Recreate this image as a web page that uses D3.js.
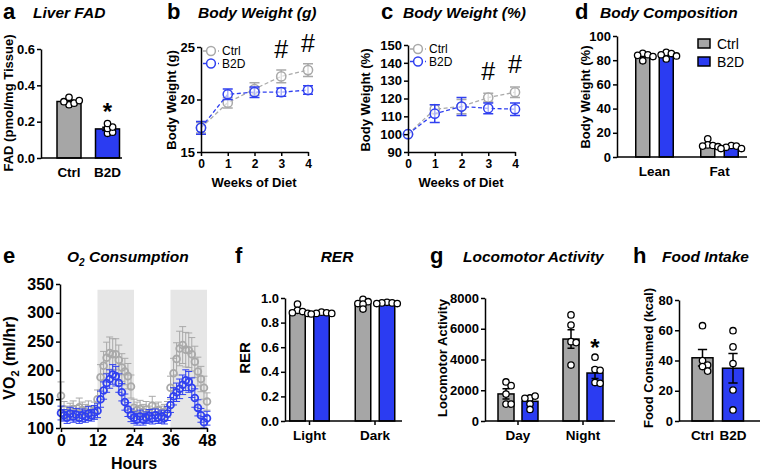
<!DOCTYPE html>
<html>
<head>
<meta charset="utf-8">
<script src="https://cdn.jsdelivr.net/npm/d3@7"></script>
<style>
body { margin: 0; background: #fff; }
svg { font-family: "Liberation Sans", Arial, Helvetica, sans-serif; }
</style>
</head>
<body>
<svg id="fig" width="761" height="474"></svg>
<script>
// ---- data ----
const groupNames = ['Ctrl', 'B2D'];

// a: liver FAD
const fadMean = [0.311, 0.160];
const fadSem = [0.007, 0.009];
const fadPts = [[0.293, 0.302, 0.31, 0.316, 0.334], [0.136, 0.142, 0.163, 0.17, 0.19]];

// b, c: body weight
const weeks = [0, 1, 2, 3, 4];
const bwCtrl = [17.3, 19.7, 21.0, 22.2, 22.8];
const bwCtrlSem = [0.5, 0.5, 0.6, 0.6, 0.6];
const bwB2D = [17.3, 20.5, 20.7, 20.7, 20.9];
const bwB2DSem = [0.6, 0.5, 0.5, 0.4, 0.4];
const pctCtrl = [100, 114, 115.5, 120.5, 123.5];
const pctCtrlSem = [0, 2.5, 4, 2.5, 3];
const pctB2D = [100, 111.5, 115.5, 114.5, 114];
const pctB2DSem = [0, 5, 5, 3, 3.5];

// d: body composition
const compGroups = ['Lean', 'Fat'];
const compCtrl = [83.3, 10.4];
const compCtrlSem = [1.1, 1.2];
const compB2D = [84.2, 8.1];
const compB2DSem = [0.9, 0.5];
const compCtrlPts = [[85.7, 84.5, 84, 83, 79.5], [15, 10, 9.5, 9, 8.5]];
const compB2DPts = [[86.5, 85.5, 84.5, 83.5, 81], [9.5, 9, 8, 7, 7]];

// e: O2 consumption
const hours = [0,1,2,3,4,5,6,7,8,9,10,11,12,13,14,15,16,17,18,19,20,21,22,23,24,
  25,26,27,28,29,30,31,32,33,34,35,36,37,38,39,40,41,42,43,44,45,46,47,48];
const vo2Ctrl = [156,132,126,130,133,127,136,131,128,133,127,131,
  150,188,208,222,230,228,228,218,205,198,190,172,
  135,131,133,128,132,126,139,129,131,126,128,132,
  170,195,220,238,244,236,235,228,215,198,185,170,146];
const vo2CtrlSem = [24,14,12,13,14,12,16,14,13,14,12,14,
  16,22,25,27,28,27,27,26,24,23,22,20,
  15,14,15,13,14,12,16,13,14,12,13,14,
  20,26,28,30,32,30,30,29,27,25,22,20,15];
const vo2B2D = [126,122,118,125,120,123,118,122,120,125,122,127,
  130,150,165,178,185,193,190,178,162,145,132,122,
  118,115,120,115,118,121,117,122,118,120,117,125,
  140,155,162,168,175,183,180,170,152,135,122,110,117];
const vo2B2DSem = [12,10,10,11,10,11,10,11,10,12,10,12,
  12,14,15,16,16,17,17,16,15,14,12,11,
  10,10,11,10,10,11,10,11,10,11,10,12,
  13,15,16,17,17,18,18,17,16,14,12,10,12];
const darkPhases = [[12, 24], [36, 48]];

// f: RER
const rerGroups = ['Light', 'Dark'];
const rerCtrl = [0.897, 0.952];
const rerCtrlSem = [0.014, 0.014];
const rerB2D = [0.877, 0.96];
const rerB2DSem = [0.003, 0.002];
const rerCtrlPts = [[0.95, 0.9, 0.89, 0.88, 0.875], [0.99, 0.97, 0.955, 0.95, 0.91]];
const rerB2DPts = [[0.885, 0.88, 0.875, 0.875, 0.87], [0.965, 0.96, 0.96, 0.955, 0.955]];

// g: locomotor activity
const locoGroups = ['Day', 'Night'];
const locoCtrl = [1760, 5330];
const locoCtrlSem = [330, 600];
const locoB2D = [1280, 3120];
const locoB2DSem = [160, 350];
const locoCtrlPts = [[2540, 2300, 1750, 1100, 1100], [6900, 6240, 5160, 5100, 3640]];
const locoB2DPts = [[1500, 1620, 1480, 1100, 750], [4150, 3350, 3300, 2500, 2450]];

// h: food intake
const foodMean = [41.8, 34.9];
const foodSem = [5.5, 9.7];
const foodPts = [[63, 40, 37, 36, 33], [59.7, 49, 38, 20.5, 7.3]];

// ---- drawing ----
const GRAY = '#a6a6a6', BLUE = '#2b3cf2', LGRAY = '#a9a9a9', LBLUE = '#3040f0';
const svg = d3.select('#fig');

function leftAxis(y, x0, ticks, fmt, size) {
    const g = svg.append('g')
        .attr('transform', `translate(${x0},0)`)
        .call(d3.axisLeft(y).tickValues(ticks).tickFormat(fmt).tickSize(4).tickSizeOuter(0).tickPadding(2));
    g.selectAll('text').style('font-size', size + 'px').style('font-weight', 'bold').style('fill', '#000');
    g.selectAll('path,line').style('stroke', '#000').style('stroke-width', 1.5);
    return g;
}

function bottomAxis(x, y0, ticks, size) {
    const g = svg.append('g')
        .attr('transform', `translate(0,${y0})`)
        .call(d3.axisBottom(x).tickValues(ticks).tickFormat(d3.format('d')).tickSize(4).tickSizeOuter(0).tickPadding(3));
    g.selectAll('text').style('font-size', size + 'px').style('font-weight', 'bold').style('fill', '#000');
    g.selectAll('path,line').style('stroke', '#000').style('stroke-width', 1.5);
    return g;
}

function label(x, y, txt, o) {
    o = o || {};
    return svg.append('text')
        .attr('x', x).attr('y', y)
        .attr('text-anchor', o.anchor || 'start')
        .style('font-size', (o.size || 13) + 'px')
        .style('font-weight', o.weight || 'bold')
        .style('font-style', o.italic ? 'italic' : 'normal')
        .text(txt);
}

function yLabel(x, y, txt, size) {
    return svg.append('text')
        .attr('transform', `translate(${x},${y}) rotate(-90)`)
        .attr('text-anchor', 'middle')
        .style('font-size', (size || 13) + 'px')
        .style('font-weight', 'bold')
        .text(txt);
}

// GraphPad-like scatter spread: move a point sideways only when it overlaps
function swarm(vals, cx, y, r) {
    const placed = [];
    return vals.map((v) => {
        const py = y(v);
        const step = r * 1.6;
        const offs = [0];
        for (let i = 1; i < 6; i++) offs.push(i * step, -i * step);
        let px = cx;
        for (const off of offs) {
            if (placed.every(p => Math.hypot(p[0] - (cx + off), p[1] - py) >= r * 1.5)) { px = cx + off; break; }
        }
        placed.push([px, py]);
        return [px, py];
    });
}

function drawBars(y, bars, bw) {
    bars.forEach((b) => {
        svg.append('rect')
            .attr('x', b.cx - bw / 2).attr('y', y(b.mean))
            .attr('width', bw).attr('height', y(0) - y(b.mean))
            .attr('fill', b.color).attr('stroke', '#000').attr('stroke-width', 1.5);
        const cw = bw * 0.22;
        svg.append('path')
            .attr('d', `M${b.cx},${y(b.mean - b.sem)}V${y(b.mean + b.sem)}M${b.cx - cw},${y(b.mean + b.sem)}H${b.cx + cw}M${b.cx - cw},${y(b.mean - b.sem)}H${b.cx + cw}`)
            .attr('stroke', '#000').attr('stroke-width', 1.5).attr('fill', 'none');
        svg.selectAll(null)
            .data(swarm(b.pts, b.cx, y, 3.2))
            .enter().append('circle')
            .attr('cx', d => d[0]).attr('cy', d => d[1]).attr('r', 3.2)
            .attr('fill', '#fff').attr('stroke', '#000').attr('stroke-width', 1.3);
    });
}

function xLine(x0, x1, y0, ticks) {
    svg.append('line').attr('x1', x0).attr('x2', x1).attr('y1', y0).attr('y2', y0)
        .attr('stroke', '#000').attr('stroke-width', 1.5);
    (ticks || []).forEach((t) => {
        svg.append('line').attr('x1', t).attr('x2', t).attr('y1', y0).attr('y2', y0 + 4)
            .attr('stroke', '#000').attr('stroke-width', 1.5);
    });
}

function groupedBars(o) {
    const y = d3.scaleLinear().domain([0, o.yMax]).range([o.yBot, o.yTop]);
    const xg = d3.scalePoint().domain(o.groups).range(o.centers);
    const xs = d3.scalePoint().domain(groupNames).range([-o.off, o.off]);
    const bars = [];
    o.groups.forEach((g, i) => {
        bars.push({cx: xg(g) + xs('Ctrl'), mean: o.ctrl[i], sem: o.ctrlSem[i], pts: o.ctrlPts[i], color: GRAY});
        bars.push({cx: xg(g) + xs('B2D'), mean: o.b2d[i], sem: o.b2dSem[i], pts: o.b2dPts[i], color: BLUE});
    });
    drawBars(y, bars, o.bw);
    xLine(o.x0, o.x1, o.yBot, o.xTicks ? o.groups.map(xg) : []);
    leftAxis(y, o.x0, o.ticks, o.fmt, 13);
    o.groups.forEach(g => label(xg(g), o.yBot + 19, g, {anchor: 'middle', size: 13.5}));
    return {x: xg, y: y};
}

function pairBars(o) {
    const y = d3.scaleLinear().domain([0, o.yMax]).range([o.yBot, o.yTop]);
    const x = d3.scalePoint().domain(groupNames).range(o.centers);
    drawBars(y, groupNames.map((g, i) => ({cx: x(g), mean: o.mean[i], sem: o.sem[i], pts: o.pts[i], color: [GRAY, BLUE][i]})), o.bw);
    xLine(o.x0, o.x1, o.yBot, []);
    leftAxis(y, o.x0, o.ticks, o.fmt, 13);
    groupNames.forEach(g => label(x(g), o.yBot + 19, g, {anchor: 'middle', size: 13.5}));
    return {x: x, y: y};
}

function linePanel(o) {
    const x = d3.scaleLinear().domain([0, 4]).range([o.x0, o.x0 + 107]);
    const y = d3.scaleLinear().domain(o.yDom).range([o.yBot, o.yTop]);
    const series = [
        {vals: o.ctrl, sem: o.ctrlSem, color: LGRAY, name: 'Ctrl'},
        {vals: o.b2d, sem: o.b2dSem, color: LBLUE, name: 'B2D'}
    ];
    series.forEach((s) => {
        svg.append('path')
            .attr('d', d3.line().x((d, i) => x(weeks[i])).y(d => y(d))(s.vals))
            .attr('fill', 'none').attr('stroke', s.color).attr('stroke-width', 1.3).attr('stroke-dasharray', '4,2.5');
        s.vals.forEach((v, i) => {
            const cx = x(weeks[i]);
            if (s.sem[i] > 0) {
                svg.append('path')
                    .attr('d', `M${cx},${y(v - s.sem[i])}V${y(v + s.sem[i])}M${cx - 5},${y(v + s.sem[i])}H${cx + 5}M${cx - 5},${y(v - s.sem[i])}H${cx + 5}`)
                    .attr('stroke', s.color).attr('stroke-width', 1.5).attr('fill', 'none');
            }
            svg.append('circle').attr('cx', cx).attr('cy', y(v)).attr('r', 4.6)
                .attr('fill', '#fff').attr('fill-opacity', 0.6).attr('stroke', s.color).attr('stroke-width', 1.5);
        });
    });
    leftAxis(y, o.x0, o.ticks, d3.format('d'), 13);
    bottomAxis(x, o.yBot, weeks, 12);
    label(o.x0 + 53, o.yBot + 35, 'Weeks of Diet', {anchor: 'middle', size: 13});
    // legend
    series.forEach((s, i) => {
        const ly = o.yTop + 4 + i * 12.5;
        const lx = o.x0 + 10;
        svg.append('line').attr('x1', lx - 8).attr('x2', lx + 8).attr('y1', ly).attr('y2', ly)
            .attr('stroke', s.color).attr('stroke-width', 1.3).attr('stroke-dasharray', '3,2');
        svg.append('circle').attr('cx', lx).attr('cy', ly).attr('r', 4.4)
            .attr('fill', '#fff').attr('stroke', s.color).attr('stroke-width', 1.5);
        label(lx + 11, ly + 4, s.name, {size: 12, weight: 'normal'});
    });
    return {x: x, y: y};
}

// panel letters and titles
[['a', 3, 19], ['b', 167, 19], ['c', 381, 19], ['d', 575, 19],
 ['e', 3, 263], ['f', 235, 263], ['g', 430, 263], ['h', 633, 263]]
    .forEach(p => label(p[1], p[2], p[0], {size: 22}));
label(33, 18, 'Liver FAD', {size: 15.5, italic: true});
label(198, 18, 'Body Weight (g)', {size: 15.5, italic: true});
label(403, 18, 'Body Weight (%)', {size: 15.5, italic: true});
label(600, 18, 'Body Composition', {size: 15.5, italic: true});
label(337, 262, 'RER', {size: 15.5, italic: true, anchor: 'middle'});
label(463, 262, 'Locomotor Activity', {size: 15.5, italic: true});
label(662, 262, 'Food Intake', {size: 15.5, italic: true});
const o2t = label(67, 262, 'O', {size: 15.5, italic: true});
o2t.append('tspan').attr('dy', 4).style('font-size', '10px').text('2');
o2t.append('tspan').attr('dy', -4).text(' Consumption');

// a
const pa = pairBars({x0: 41, x1: 122, yTop: 49, yBot: 158, yMax: 0.6, ticks: [0, 0.2, 0.4, 0.6],
    fmt: d3.format('.1f'), centers: [69, 107.5], bw: 24, mean: fadMean, sem: fadSem, pts: fadPts});
label(pa.x('B2D'), pa.y(0.235) + 5, '*', {anchor: 'middle', size: 24});
yLabel(13, 103, 'FAD (pmol/mg Tissue)');

// b
const pb = linePanel({x0: 201, yTop: 47, yBot: 152, yDom: [15, 25], ticks: [15, 20, 25],
    ctrl: bwCtrl, ctrlSem: bwCtrlSem, b2d: bwB2D, b2dSem: bwB2DSem});
label(pb.x(3), pb.y(24.0), '#', {anchor: 'middle', size: 25, weight: 'normal'});
label(pb.x(4), pb.y(24.5), '#', {anchor: 'middle', size: 25, weight: 'normal'});
yLabel(176, 100, 'Body Weight (g)');

// c
const pc = linePanel({x0: 408, yTop: 45, yBot: 152, yDom: [90, 150], ticks: [90, 100, 110, 120, 130, 140, 150],
    ctrl: pctCtrl, ctrlSem: pctCtrlSem, b2d: pctB2D, b2dSem: pctB2DSem});
label(pc.x(3), pc.y(130.4), '#', {anchor: 'middle', size: 25, weight: 'normal'});
label(pc.x(4), pc.y(134.3), '#', {anchor: 'middle', size: 25, weight: 'normal'});
yLabel(370, 100, 'Body Weight (%)');

// d
groupedBars({x0: 617, x1: 747, yTop: 36, yBot: 157, yMax: 100, ticks: [0, 20, 40, 60, 80, 100], fmt: d3.format('d'),
    groups: compGroups, centers: [654.5, 719.5], off: 11.75, bw: 14,
    ctrl: compCtrl, ctrlSem: compCtrlSem, ctrlPts: compCtrlPts, b2d: compB2D, b2dSem: compB2DSem, b2dPts: compB2DPts});
yLabel(590, 97, 'Body Weight (%)');
groupNames.forEach((g, i) => {
    svg.append('rect').attr('x', 698).attr('y', 39 + i * 18).attr('width', 12).attr('height', 9)
        .attr('fill', [GRAY, BLUE][i]).attr('stroke', '#000').attr('stroke-width', 1.5);
    label(717, 48.5 + i * 18, g, {size: 14, weight: 'normal'});
});

// e
const xe = d3.scaleLinear().domain([0, 48]).range([61, 207]);
const ye = d3.scaleLinear().domain([100, 350]).range([428, 284]);
darkPhases.forEach((p) => {
    svg.append('rect').attr('x', xe(p[0])).attr('y', ye(340))
        .attr('width', xe(p[1]) - xe(p[0])).attr('height', ye(100) - ye(340)).attr('fill', '#e6e6e6');
});
[[vo2Ctrl, vo2CtrlSem, LGRAY], [vo2B2D, vo2B2DSem, LBLUE]].forEach((s) => {
    const vals = s[0], sem = s[1], col = s[2];
    vals.forEach((v, i) => {
        const cx = xe(hours[i]);
        const lo = Math.max(100, v - sem[i]);
        svg.append('path')
            .attr('d', `M${cx},${ye(lo)}V${ye(v + sem[i])}M${cx - 3.5},${ye(v + sem[i])}H${cx + 3.5}M${cx - 3.5},${ye(lo)}H${cx + 3.5}`)
            .attr('stroke', col).attr('stroke-width', 1).attr('fill', 'none');
    });
    svg.selectAll(null).data(vals).enter().append('circle')
        .attr('cx', (d, i) => xe(hours[i])).attr('cy', d => ye(d)).attr('r', 3.4)
        .attr('fill', 'none').attr('stroke', col).attr('stroke-width', 1.8);
});
leftAxis(ye, 60, [100, 150, 200, 250, 300, 350], d3.format('d'), 16);
bottomAxis(xe, 428, [0, 12, 24, 36, 48], 16);
label(134, 469, 'Hours', {anchor: 'middle', size: 16});
const vo2l = svg.append('text')
    .attr('transform', 'translate(15,358) rotate(-90)')
    .attr('text-anchor', 'middle').style('font-size', '16px').style('font-weight', 'bold')
    .text('VO');
vo2l.append('tspan').attr('dy', 4).style('font-size', '11px').text('2');
vo2l.append('tspan').attr('dy', -4).text(' (ml/hr)');

// f
groupedBars({x0: 285, x1: 402, yTop: 298, yBot: 421, yMax: 1.0, ticks: [0, 0.2, 0.4, 0.6, 0.8, 1.0], fmt: d3.format('.1f'),
    groups: rerGroups, centers: [309.5, 375], off: 12, bw: 15.5, xTicks: true,
    ctrl: rerCtrl, ctrlSem: rerCtrlSem, ctrlPts: rerCtrlPts, b2d: rerB2D, b2dSem: rerB2DSem, b2dPts: rerB2DPts});
yLabel(250, 358, 'RER', 15);

// g
const pg = groupedBars({x0: 485, x1: 615, yTop: 298, yBot: 421, yMax: 8000, ticks: [0, 2000, 4000, 6000, 8000], fmt: d3.format('d'),
    groups: locoGroups, centers: [518, 583], off: 12, bw: 16, xTicks: true,
    ctrl: locoCtrl, ctrlSem: locoCtrlSem, ctrlPts: locoCtrlPts, b2d: locoB2D, b2dSem: locoB2DSem, b2dPts: locoB2DPts});
label(pg.x('Night') + 12, pg.y(4650) + 6, '*', {anchor: 'middle', size: 24});
yLabel(447, 358, 'Locomotor Activity');

// h
pairBars({x0: 679, x1: 760, yTop: 300, yBot: 421, yMax: 80, ticks: [0, 20, 40, 60, 80],
    fmt: d3.format('d'), centers: [702.5, 733], bw: 21, mean: foodMean, sem: foodSem, pts: foodPts});
yLabel(653, 358, 'Food Consumed (kcal)');
</script>
</body>
</html>
